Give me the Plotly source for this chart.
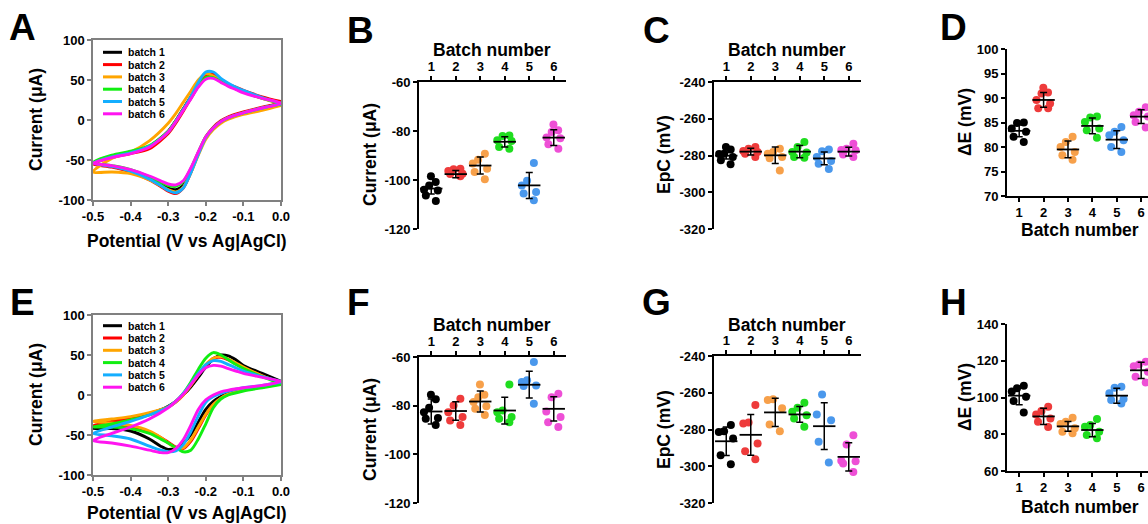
import plotly.graph_objects as go

W, H = 1148, 524
FONT = "Liberation Sans, Arial, Helvetica, sans-serif"

# ---------------- data ----------------
BATCHES = ["batch 1", "batch 2", "batch 3", "batch 4", "batch 5", "batch 6"]
CATS = [1, 2, 3, 4, 5, 6]
CV_COLORS = ["#000000", "#FF0000", "#FFA500", "#11EE11", "#14AEFF", "#FF14F0"]
DOT_COLORS = ["#000000", "#EE3B3B", "#F7A04A", "#1FDD1F", "#4A98EC", "#EE4FD6"]

# potentials (V vs Ag|AgCl): cathodic sweep 0 -> -0.5, then anodic sweep back to 0
POT_LOWER = [0.0, -0.05, -0.10, -0.14, -0.16, -0.18, -0.20, -0.22, -0.24, -0.26,
             -0.28, -0.30, -0.32, -0.35, -0.40, -0.45, -0.50]
POT_UPPER = [-0.45, -0.40, -0.35, -0.30, -0.28, -0.26, -0.24, -0.22, -0.20, -0.18,
             -0.16, -0.14, -0.12, -0.10, -0.05, 0.0]

# Panel A currents (uA), one list per batch
A_LOWER = [
    [21, 15, 9, 3, -2, -10, -22, -42, -64, -82, -87, -85, -80, -73, -64, -58, -54],
    [21, 16, 10, 4, -1, -9, -21, -42, -66, -85, -92, -89, -83, -75, -65, -59, -55],
    [18, 12, 7, 1, -4, -12, -24, -44, -66, -84, -90, -87, -82, -75, -67, -65, -65],
    [20, 15, 9, 3, -2, -10, -21, -40, -61, -77, -83, -82, -78, -71, -62, -57, -53],
    [20, 15, 9, 3, -2, -10, -22, -43, -66, -85, -91, -88, -82, -74, -64, -58, -54],
    [21, 15, 9, 3, -2, -10, -21, -40, -60, -76, -81, -80, -76, -70, -62, -57, -54],
]
A_UPPER = [
    [-45, -40, -33, -14, -1, 14, 29, 45, 56, 55, 49, 44, 40, 36, 28, 22],
    [-47, -42, -36, -17, -4, 11, 27, 44, 56, 57, 51, 45, 41, 37, 29, 23],
    [-48, -40, -26, -4, 8, 22, 36, 50, 58, 55, 49, 44, 40, 35, 27, 20],
    [-44, -39, -32, -14, -1, 13, 27, 42, 53, 53, 48, 43, 39, 35, 27, 21],
    [-46, -41, -33, -15, -2, 13, 29, 47, 60, 60, 52, 46, 41, 37, 28, 21],
    [-47, -42, -34, -15, -2, 12, 26, 41, 51, 52, 47, 42, 38, 34, 27, 21],
]
# Panel E currents (uA)
E_LOWER = [
    [15, 11, 7, 2, -2, -8, -18, -34, -50, -60, -66, -68, -64, -55, -45, -42, -42],
    [14, 10, 6, 1, -4, -12, -25, -42, -58, -67, -65, -59, -53, -46, -40, -38, -38],
    [14, 10, 6, 1, -4, -12, -24, -40, -56, -66, -66, -60, -53, -45, -38, -35, -33],
    [13, 9, 5, 0, -5, -16, -36, -55, -69, -71, -66, -60, -55, -48, -42, -40, -40],
    [16, 12, 9, 5, 2, -2, -9, -26, -46, -62, -70, -71, -69, -64, -55, -51, -48],
    [17, 12, 9, 6, 4, 0, -6, -18, -38, -56, -67, -72, -72, -69, -64, -60, -57],
]
E_UPPER = [
    [-36, -31, -24, -14, -8, 0, 10, 22, 35, 45, 50, 49, 44, 37, 27, 17],
    [-33, -29, -23, -15, -9, 0, 12, 25, 37, 46, 47, 44, 39, 34, 24, 15],
    [-30, -27, -22, -15, -9, 0, 12, 25, 38, 46, 48, 45, 40, 35, 24, 15],
    [-36, -31, -25, -15, -8, 2, 16, 32, 46, 53, 50, 44, 38, 33, 23, 14],
    [-40, -33, -25, -15, -8, 2, 14, 27, 38, 43, 42, 38, 34, 30, 23, 17],
    [-48, -40, -30, -16, -8, 1, 13, 25, 34, 37, 36, 33, 30, 27, 22, 17],
]

# Panel B: cathodic peak current (uA) per batch
B_VALUES = [
    [-98.5, -100.8, -102.2, -104.0, -104.3, -106.3, -108.6],
    [-95.4, -95.6, -96.3, -97.4, -97.6, -98.5],
    [-89.3, -91.7, -93.3, -95.4, -96.7, -99.7],
    [-81.8, -82.0, -83.8, -84.1, -86.5, -87.2],
    [-93.1, -100.3, -102.2, -104.9, -105.5, -108.3],
    [-77.3, -79.7, -80.4, -82.7, -83.0, -85.4, -87.2],
]
B_MEAN = [-103.5, -97.6, -94.1, -84.4, -102.2, -82.7]
B_SD = [2.2, 1.5, 3.5, 2.1, 5.3, 3.2]

# Panel C: EpC (mV)
C_VALUES = [
    [-275.4, -276.7, -279.0, -279.2, -280.8, -282.6, -284.8],
    [-275.4, -276.3, -277.5, -278.1, -279.0, -280.8],
    [-276.3, -278.1, -279.0, -280.8, -281.5, -288.1],
    [-272.7, -275.4, -278.1, -278.3, -280.8, -281.2],
    [-276.7, -277.7, -280.8, -283.0, -284.5, -287.4],
    [-273.6, -276.3, -277.0, -277.2, -279.4, -280.8],
]
C_MEAN = [-280.1, -277.9, -279.9, -277.9, -281.6, -277.9]
C_SD = [1.8, 1.8, 4.5, 3.3, 3.5, 2.4]

# Panel D: delta E (mV)
D_VALUES = [
    [84.9, 85.0, 83.8, 83.1, 82.1, 81.0],
    [92.1, 91.1, 90.9, 89.6, 88.9, 87.9, 87.9],
    [82.1, 81.0, 80.0, 79.0, 78.3, 77.4],
    [86.2, 86.0, 85.1, 83.8, 83.4, 81.9],
    [84.1, 83.1, 82.4, 81.4, 80.0, 79.0],
    [88.1, 87.2, 86.5, 86.2, 85.1, 84.0],
]
D_MEAN = [83.3, 89.6, 79.5, 84.3, 81.5, 86.2]
D_SD = [1.2, 1.5, 1.7, 1.6, 1.8, 1.4]

# Panel F: cathodic peak current (uA)
F_VALUES = [
    [-75.5, -77.4, -80.9, -82.7, -85.1, -85.4, -87.9],
    [-77.2, -79.9, -82.7, -84.7, -86.1, -87.9],
    [-71.3, -75.5, -76.5, -78.5, -80.2, -81.3, -83.8],
    [-71.3, -82.0, -82.7, -84.7, -85.4, -86.8],
    [-62.1, -69.6, -70.3, -71.7, -71.9, -79.2],
    [-75.1, -76.5, -82.4, -84.7, -86.8, -88.8],
]
F_MEAN = [-82.4, -82.2, -78.3, -82.0, -71.4, -81.3]
F_SD = [5.1, 3.8, 4.3, 5.5, 5.5, 5.0]

# Panel G: EpC (mV)
G_VALUES = [
    [-277.6, -280.9, -281.3, -284.9, -294.0, -298.9],
    [-266.7, -276.2, -276.7, -287.6, -291.8, -296.2],
    [-263.5, -264.0, -268.5, -277.3, -280.9],
    [-265.5, -268.2, -270.4, -272.2, -274.0, -278.5],
    [-260.9, -271.8, -274.9, -286.7, -298.0],
    [-283.1, -288.2, -297.0, -297.3, -298.5, -303.1],
]
G_MEAN = [-286.4, -282.9, -270.7, -271.8, -278.2, -294.9]
G_SD = [7.7, 11.1, 7.7, 4.3, 12.7, 7.7]

# Panel H: delta E (mV)
H_VALUES = [
    [106.4, 105.0, 103.2, 100.4, 98.1, 91.9],
    [95.0, 92.6, 90.8, 88.6, 86.8, 84.0],
    [89.0, 86.8, 85.6, 83.2, 81.4, 80.5],
    [88.3, 85.0, 84.1, 81.4, 79.6, 77.8],
    [105.9, 105.3, 102.3, 99.2, 98.6, 96.8],
    [119.5, 118.0, 117.0, 114.0, 111.3, 108.2],
]
H_MEAN = [101.0, 89.7, 84.3, 82.3, 101.0, 114.8]
H_SD = [5.0, 4.4, 2.7, 3.6, 4.1, 4.4]

# tick labels
CV_X_TICKS = [-0.5, -0.4, -0.3, -0.2, -0.1, 0.0]
CV_X_LABELS = ["-0.5", "-0.4", "-0.3", "-0.2", "-0.1", "0.0"]
CV_Y_TICKS = [100, 50, 0, -50, -100]
CV_Y_LABELS = ["100", "50", "0", "-50", "-100"]
CUR_TICKS = [-60, -80, -100, -120]
CUR_LABELS = ["-60", "-80", "-100", "-120"]
EPC_TICKS = [-240, -260, -280, -300, -320]
EPC_LABELS = ["-240", "-260", "-280", "-300", "-320"]
DE1_TICKS = [70, 75, 80, 85, 90, 95, 100]
DE2_TICKS = [60, 80, 100, 120, 140]
CAT_LABELS = ["1", "2", "3", "4", "5", "6"]

# ---------------- layout helpers ----------------
def dom_x(x0, x1):
    return [x0 / W, x1 / W]


def dom_y(y0, y1):
    return [1 - y1 / H, 1 - y0 / H]


def axn(i):
    return ("xaxis", "yaxis", "x", "y") if i == 1 else (f"xaxis{i}", f"yaxis{i}", f"x{i}", f"y{i}")


TICKFONT = dict(family=FONT, size=13, color="black", weight="bold")
BASE = dict(showgrid=False, zeroline=False, showline=True, ticks="outside",
            ticklen=4, tickwidth=1.6, linewidth=1.7, linecolor="black",
            tickcolor="black", tickfont=TICKFONT, fixedrange=True, layer="above traces",
            automargin=False)

fig = go.Figure()
layout = dict(width=W, height=H,
              margin=dict(l=0, r=0, t=0, b=0, pad=0, autoexpand=False),
              paper_bgcolor="white", plot_bgcolor="white", showlegend=False)

# CV panels: A (1) and E (5)
for idx, (y0, y1), lowers, uppers in [(1, (40, 200), A_LOWER, A_UPPER),
                                      (5, (315, 475), E_LOWER, E_UPPER)]:
    xa, ya, xr, yr = axn(idx)
    grey = "#808080"
    layout[xa] = dict(BASE, domain=dom_x(93, 281), anchor=yr, range=[-0.5, 0.0],
                      tickvals=CV_X_TICKS, ticktext=CV_X_LABELS, mirror=True,
                      linecolor=grey, tickcolor=grey, linewidth=1.5)
    layout[ya] = dict(BASE, domain=dom_y(y0, y1), anchor=xr, range=[-100, 100],
                      tickvals=CV_Y_TICKS, ticktext=CV_Y_LABELS, mirror=True,
                      linecolor=grey, tickcolor=grey, linewidth=1.5)
    for b in range(6):
        fig.add_trace(go.Scatter(
            x=POT_LOWER + POT_UPPER, y=lowers[b] + uppers[b], mode="lines",
            line=dict(color=CV_COLORS[b], width=2.9, shape="spline", smoothing=0.8),
            name=BATCHES[b], xaxis=xr, yaxis=yr))

# dot panels
DOT_PANELS = [
    (2, (419, 566), (82, 229), "top", [-120, -60], CUR_TICKS, CUR_LABELS, B_VALUES, B_MEAN, B_SD, [0.5, 6.5]),
    (3, (714, 861), (82, 229), "top", [-320, -240], EPC_TICKS, EPC_LABELS, C_VALUES, C_MEAN, C_SD, [0.5, 6.5]),
    (4, (1007, 1148), (49, 196), "bottom", [70, 100], DE1_TICKS, [str(v) for v in DE1_TICKS], D_VALUES, D_MEAN, D_SD, [0.5, 6.28]),
    (6, (419, 566), (357, 503), "top", [-120, -60], CUR_TICKS, CUR_LABELS, F_VALUES, F_MEAN, F_SD, [0.5, 6.5]),
    (7, (714, 861), (356, 503), "top", [-320, -240], EPC_TICKS, EPC_LABELS, G_VALUES, G_MEAN, G_SD, [0.5, 6.5]),
    (8, (1007, 1148), (324, 471), "bottom", [60, 140], DE2_TICKS, [str(v) for v in DE2_TICKS], H_VALUES, H_MEAN, H_SD, [0.5, 6.28]),
]
for idx, xd, yd, side, yrange, yt, ytl, values, means, sds, xrange_ in DOT_PANELS:
    xa, ya, xr, yr = axn(idx)
    layout[xa] = dict(BASE, domain=dom_x(*xd), anchor=yr, range=xrange_, side=side,
                      tickvals=CATS, ticktext=CAT_LABELS)
    layout[ya] = dict(BASE, domain=dom_y(*yd), anchor=xr, range=yrange,
                      tickvals=yt, ticktext=ytl)
    for c in range(6):
        fig.add_trace(go.Box(
            x=[CATS[c]] * len(values[c]), y=values[c], orientation="v",
            boxpoints="all", jitter=0.9, pointpos=0, width=0.8,
            fillcolor="rgba(0,0,0,0)", line=dict(width=0, color="rgba(0,0,0,0)"),
            marker=dict(color=DOT_COLORS[c], size=8, line=dict(width=0)),
            xaxis=xr, yaxis=yr, hoverinfo="y"))
    fig.add_trace(go.Scatter(
        x=CATS, y=means, mode="markers",
        marker=dict(symbol="line-ew", size=16, color="black",
                    line=dict(color="black", width=1.8)),
        error_y=dict(type="data", array=sds, visible=True, color="black",
                     thickness=1.5, width=3.5),
        xaxis=xr, yaxis=yr, cliponaxis=False))


def ann(text, x, y, size, angle=0, xanchor="center"):
    return dict(text=text, x=x / W, y=1 - y / H, xref="paper", yref="paper",
                showarrow=False, textangle=angle, xanchor=xanchor, yanchor="middle",
                font=dict(family=FONT, size=size, color="black", weight="bold"))


anns = []
# panel letters
for txt, x, y in [("A", 22, 28), ("B", 360, 30), ("C", 656, 30), ("D", 954, 28),
                  ("E", 22, 302), ("F", 358, 302), ("G", 656, 302), ("H", 954, 302)]:
    anns.append(ann(txt, x, y, 37))
# axis titles
TS = 17.5
anns += [
    ann("Current (μA)", 36, 120, TS, -90),
    ann("Potential (V vs Ag|AgCl)", 187, 241, TS),
    ann("Current (μA)", 36, 395, TS, -90),
    ann("Potential (V vs Ag|AgCl)", 187, 513, TS),
    ann("Batch number", 492, 50, TS),
    ann("Current (μA)", 370, 155, TS, -90),
    ann("Batch number", 787, 50, TS),
    ann("EpC (mV)", 664, 155, TS, -90),
    ann("ΔE (mV)", 965, 122, TS, -90),
    ann("Batch number", 1080, 230, TS),
    ann("Batch number", 492, 325, TS),
    ann("Current (μA)", 370, 430, TS, -90),
    ann("Batch number", 787, 325, TS),
    ann("EpC (mV)", 664, 430, TS, -90),
    ann("ΔE (mV)", 965, 397, TS, -90),
    ann("Batch number", 1080, 507, TS),
]

# manual legends inside A and E
shapes = []
for top in (52.3, 325.7):
    for b in range(6):
        yy = top + b * 12.3
        shapes.append(dict(type="line", xref="paper", yref="paper",
                           x0=103 / W, x1=122 / W, y0=1 - yy / H, y1=1 - yy / H,
                           line=dict(color=CV_COLORS[b], width=3)))
        anns.append(ann(BATCHES[b], 126, yy, 10.5, xanchor="left"))

layout["annotations"] = anns
layout["shapes"] = shapes
fig.update_layout(**layout)
fig.write_html("out.html", config={"displayModeBar": False},
               post_script="document.body.style.margin='0px';document.body.style.overflow='hidden';")
